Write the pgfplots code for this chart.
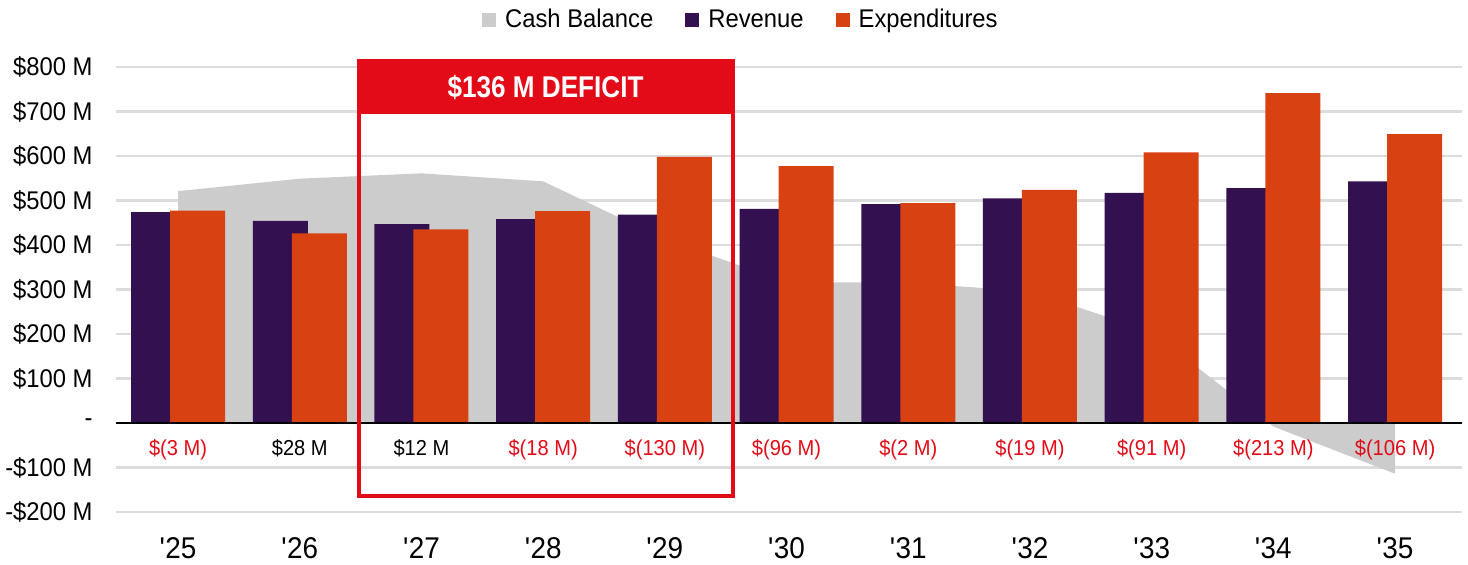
\documentclass[border=0pt]{standalone}
\usepackage{fontspec}
\setmainfont{Liberation Sans}[FakeStretch=0.93]
\newfontfamily\narrowfont{Liberation Sans}[FakeStretch=0.87]
\usepackage{pgfplots}
\pgfplotsset{compat=1.18}
\usepackage{pgfplotstable}

\definecolor{cashgray}{HTML}{CCCCCC}
\definecolor{revpurple}{HTML}{33104F}
\definecolor{exporange}{HTML}{D84111}
\definecolor{defred}{HTML}{E30B17}
\definecolor{gridgray}{HTML}{DCDCDC}

% year index, cash balance, revenue, expenditures ($M)
\pgfplotstableread{
x cash rev exp
0  521 474 477
1  549 454 426
2  561 447 435
3  543 458 476
4  413 468 598
5  317 481 577
6  315 492 494
7  296 505 524
8  205 517 608
9  -8  528 741
10 -114 543 649
}\budget

\begin{document}
\begin{tikzpicture}
\path[use as bounding box] (-58pt,-26.5pt) rectangle (676pt,256pt);
\begin{axis}[
  scale only axis, width=673pt, height=222.5pt,
  xmin=-0.51, xmax=10.55, ymin=-200, ymax=800,
  clip=false,
  axis line style={draw=none},
  major tick length=0pt,
  ymajorgrids, grid style={gridgray, line width=1.2pt},
  ytick={-200,-100,...,800},
  yticklabels={-\$200 M,-\$100 M,-,\$100 M,\$200 M,\$300 M,\$400 M,\$500 M,\$600 M,\$700 M,\$800 M},
  yticklabel style={font=\fontsize{12.8}{15}\selectfont, inner sep=0pt, anchor=east, xshift=-11.5pt},
  xtick={0,...,10},
  xticklabels={\textquotesingle25,\textquotesingle26,\textquotesingle27,\textquotesingle28,\textquotesingle29,\textquotesingle30,\textquotesingle31,\textquotesingle32,\textquotesingle33,\textquotesingle34,\textquotesingle35},
  xticklabel style={font=\fontsize{15}{18}\selectfont, inner sep=0pt, anchor=center, yshift=-18pt},
  legend columns=-1,
  legend style={at={(0.4635,1.1056)}, anchor=center, draw=none, fill=none,
    font=\fontsize{12.8}{15}\selectfont,
    nodes={inner sep=0pt},
    /tikz/every odd column/.style={column sep=4.5pt},
    /tikz/every even column/.style={column sep=16pt}},
]
\addplot[fill=cashgray, draw=none,
  legend image code/.code={\fill[cashgray] (0pt,-3.5pt) rectangle (7pt,3.5pt);}]
  table[x=x, y=cash]{\budget} \closedcycle;
\addlegendentry{Cash Balance}
\addplot[ybar, bar width=27.5pt, bar shift=-9.75pt, fill=revpurple, draw=none,
  legend image code/.code={\fill[revpurple] (0pt,-3.5pt) rectangle (7pt,3.5pt);}]
  table[x=x, y=rev]{\budget};
\addlegendentry{Revenue}
\addplot[ybar, bar width=27.5pt, bar shift=9.75pt, fill=exporange, draw=none,
  legend image code/.code={\fill[exporange] (0pt,-3.5pt) rectangle (7pt,3.5pt);}]
  table[x=x, y=exp]{\budget};
\addlegendentry{Expenditures}

\draw[black, line width=1pt] (axis cs:-0.51,0) -- (axis cs:10.55,0);

% yearly surplus / deficit
\begin{scope}[every node/.style={font=\fontsize{10.8}{12}\selectfont, text height=0.75em, text depth=0.22em}]
\node[defred] at (axis cs:0,-61) {\$(3 M)};
\node[black]  at (axis cs:1,-61) {\$28 M};
\node[black]  at (axis cs:2,-61) {\$12 M};
\node[defred] at (axis cs:3,-61) {\$(18 M)};
\node[defred] at (axis cs:4,-61) {\$(130 M)};
\node[defred] at (axis cs:5,-61) {\$(96 M)};
\node[defred] at (axis cs:6,-61) {\$(2 M)};
\node[defred] at (axis cs:7,-61) {\$(19 M)};
\node[defred] at (axis cs:8,-61) {\$(91 M)};
\node[defred] at (axis cs:9,-61) {\$(213 M)};
\node[defred] at (axis cs:10,-61) {\$(106 M)};
\end{scope}

% deficit callout
\fill[defred] (axis cs:1.487,813) rectangle (axis cs:4.56,694);
\draw[defred, line width=2pt] (axis cs:1.487,813) rectangle (axis cs:4.56,-164);
\node[white, font=\narrowfont\bfseries\fontsize{15}{18}\selectfont] at (axis cs:3.02,753) {\$136 M DEFICIT};
\end{axis}
\end{tikzpicture}
\end{document}
